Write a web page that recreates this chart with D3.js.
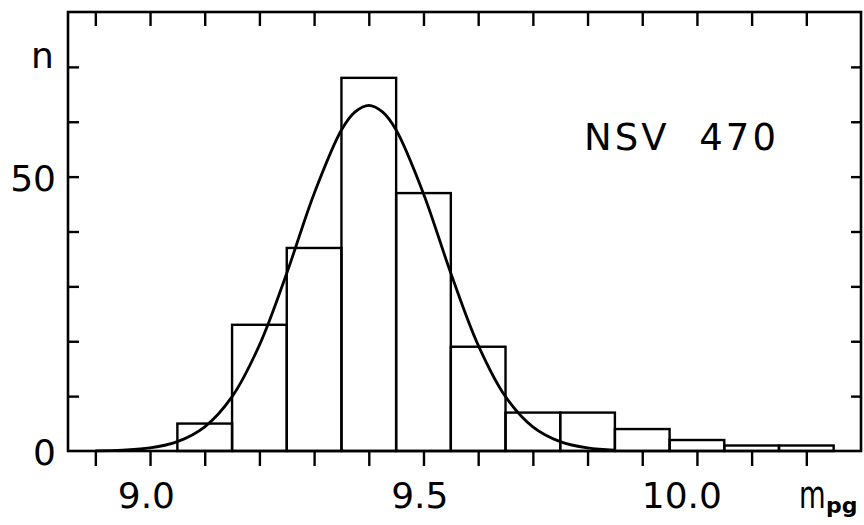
<!DOCTYPE html>
<html>
<head>
<meta charset="utf-8">
<script src="https://cdn.jsdelivr.net/npm/d3@7"></script>
<style>
  html, body { margin: 0; padding: 0; background: #fff; }
  svg { display: block; }
  text { font-family: "DejaVu Sans", sans-serif; fill: #000; }
</style>
</head>
<body>
<svg id="chart" width="864" height="525"></svg>
<script>
// ---- data ----
const binStarts = [9.05, 9.15, 9.25, 9.35, 9.45, 9.55, 9.65, 9.75, 9.85, 9.95, 10.05, 10.15];
const binWidth = 0.1;
const counts = [5, 23, 37, 68, 47, 19, 7, 7, 4, 2, 1, 1];

// fitted curve
const curveX = [8.90, 8.95, 9.00, 9.05, 9.10, 9.15, 9.20, 9.25, 9.30, 9.35, 9.375, 9.40, 9.425, 9.45, 9.50, 9.55, 9.60, 9.65, 9.70, 9.75, 9.80, 9.85];
const curveY = [0.04, 0.16, 0.55, 1.7, 4.4, 9.9, 19.3, 32.4, 46.9, 58.5, 61.8, 63, 61.8, 58.5, 46.9, 32.4, 19.3, 9.9, 4.4, 1.7, 0.55, 0.16];

const xTicks = [8.9, 9.0, 9.1, 9.2, 9.3, 9.4, 9.5, 9.6, 9.7, 9.8, 9.9, 10.0, 10.1, 10.2];
const xLabels = [9.0, 9.5, 10.0];
const yTicks = [10, 20, 30, 40, 50, 60, 70];
const yLabels = [0, 50];
const title = "NSV  470";

// ---- layout ----
const mLeft = 68, mRight = 861, mTop = 12, mBottom = 451;
const svg = d3.select("#chart");
const x = d3.scaleLinear().domain([8.85, 10.3]).range([mLeft, mRight]);
const y = d3.scaleLinear().domain([0, 80]).range([mBottom, mTop]);

// bars
svg.append("g").selectAll("rect")
  .data(binStarts.map((s, i) => ({ s, c: counts[i] })))
  .join("rect")
  .attr("x", d => x(d.s))
  .attr("y", d => y(d.c))
  .attr("width", d => x(d.s + binWidth) - x(d.s))
  .attr("height", d => y(0) - y(d.c))
  .attr("fill", "none")
  .attr("stroke", "#000")
  .attr("stroke-width", 2.4);

// curve
const line = d3.line()
  .x((d, i) => x(curveX[i]))
  .y(d => y(d))
  .curve(d3.curveCatmullRom);
svg.append("path")
  .attr("d", line(curveY))
  .attr("fill", "none")
  .attr("stroke", "#000")
  .attr("stroke-width", 2.8);

// axes (ticks only)
function styleAxis(g) {
  g.select(".domain").remove();
  g.selectAll(".tick line").attr("stroke", "#000").attr("stroke-width", 2.4);
  g.selectAll(".tick text").remove();
}
svg.append("g").attr("transform", `translate(0,${mBottom})`)
  .call(d3.axisBottom(x).tickValues(xTicks).tickSize(15).tickFormat(""))
  .call(styleAxis);
svg.append("g").attr("transform", `translate(0,${mTop})`)
  .call(d3.axisBottom(x).tickValues(xTicks).tickSize(14).tickFormat(""))
  .call(styleAxis);
svg.append("g").attr("transform", `translate(${mLeft},0)`)
  .call(d3.axisRight(y).tickValues(yTicks).tickSize(11).tickFormat(""))
  .call(styleAxis);
svg.append("g").attr("transform", `translate(${mRight},0)`)
  .call(d3.axisLeft(y).tickValues(yTicks).tickSize(10).tickFormat(""))
  .call(styleAxis);

// frame
svg.append("rect")
  .attr("x", mLeft).attr("y", mTop)
  .attr("width", mRight - mLeft).attr("height", mBottom - mTop)
  .attr("fill", "none").attr("stroke", "#000").attr("stroke-width", 2.6);

// labels
const fs = 36;
svg.append("g").selectAll("text")
  .data(xLabels)
  .join("text")
  .attr("x", d => x(d) + 25)
  .attr("y", 508)
  .attr("text-anchor", "end")
  .attr("font-size", fs)
  .text(d => d.toFixed(1));

svg.append("g").selectAll("text")
  .data(yLabels)
  .join("text")
  .attr("x", 56)
  .attr("y", d => y(d) + 14)
  .attr("text-anchor", "end")
  .attr("font-size", fs)
  .text(d => d);

svg.append("text")
  .attr("x", 31).attr("y", 68)
  .attr("font-size", fs)
  .text("n");

// axis label m_pg
svg.append("text")
  .attr("transform", "translate(799,508) scale(0.72,1)")
  .attr("font-size", 38)
  .text("m");
svg.append("text")
  .attr("x", 826).attr("y", 513)
  .attr("font-size", 22)
  .attr("font-weight", "bold")
  .text("pg");

svg.append("text")
  .attr("x", 584).attr("y", 150)
  .attr("font-size", 37)
  .attr("textLength", 192)
  .attr("lengthAdjust", "spacing")
  .style("white-space", "pre")
  .text(title);
</script>
</body>
</html>
